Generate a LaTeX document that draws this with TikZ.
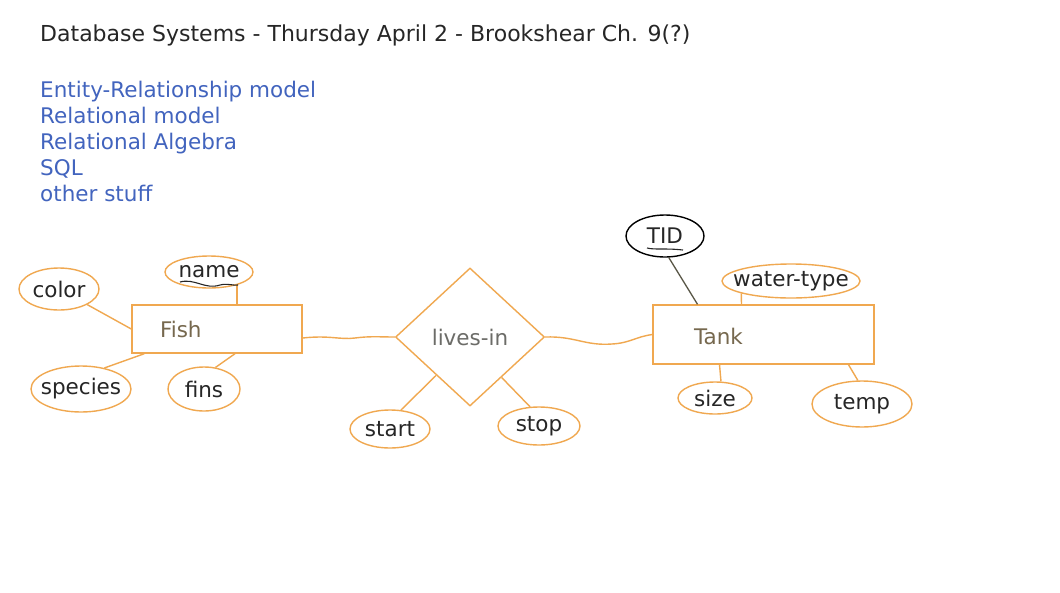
\documentclass[tikz,border=0pt]{standalone}
\usepackage{fontspec}
\setmainfont{DejaVu Sans}
\usepackage{tikz}
\usetikzlibrary{shapes.geometric,shapes,positioning,calc}
\definecolor{penorange}{RGB}{240,168,80}
\definecolor{listblue}{RGB}{66,100,190}
\definecolor{boxtext}{RGB}{118,104,78}
\definecolor{reltext}{RGB}{108,108,104}
\definecolor{attrtext}{RGB}{38,38,38}
\definecolor{keyline}{RGB}{88,86,70}
\tikzstyle{entity}=[draw=penorange, line width=1.4pt, rectangle, inner sep=0pt, minimum height=48pt, text=boxtext, font=\fontsize{21.5}{26}\selectfont]
\tikzstyle{relation}=[draw=penorange, line width=1.4pt, diamond, inner sep=0pt, minimum width=149pt, minimum height=138pt, text=reltext, font=\fontsize{21.5}{26}\selectfont]
\tikzstyle{attrib}=[draw=penorange, line width=1.4pt, ellipse, inner sep=-12pt, text=attrtext, font=\fontsize{21.5}{26}\selectfont]
\tikzstyle{topic}=[anchor=west, inner sep=0pt, text height=15pt, text depth=5pt, text=listblue, font=\fontsize{21.5}{26}\selectfont]
\tikzstyle{link}=[draw=penorange, line width=1.4pt]

\begin{document}
\begin{tikzpicture}[x=1pt,y=-1pt]
\useasboundingbox[fill=white] (0,0) rectangle (1060,592);

% heading
\node[anchor=west, inner sep=0pt, text=attrtext, font=\fontsize{22}{26}\selectfont] (title) at (40,35) {Database Systems - Thursday April 2 - Brookshear Ch. 9(?)};

% topics
\foreach \t [count=\i] in {Entity-Relationship model, Relational model, Relational Algebra, SQL, other stuff}
  \node[topic] (topic\i) at (40,66+26*\i) {\t};

% entities and relationship
\node[entity, minimum width=170pt, text width=114pt] (fish) at (217,329) {Fish};
\node[entity, minimum width=221pt, minimum height=59pt, text width=139pt, text height=24pt, text depth=5pt] (tank) at (763.5,334.5) {Tank};
\node[relation] (rel) at (470,337) {lives-in};

\draw[link] ([yshift=-9pt]fish.east) .. controls (330,335) and (340,340) .. (355,338) .. controls (370,336) and (380,337) .. (rel.west);
\draw[link] (rel.east) .. controls (575,336) and (585,346) .. (612,344) .. controls (630,343) and (635,337) .. (tank.west);

% Fish attributes
\node[attrib, minimum width=80pt, minimum height=42pt] (color) at (59,289) {color};
\node[attrib, minimum width=88pt, minimum height=32pt] (name) at (209,272) {name};
\node[attrib, minimum width=100pt, minimum height=46pt] (species) at (81,389) {species};
\node[attrib, minimum width=72pt, minimum height=44pt] (fins) at (204,389) {fins};
\draw[link] (color) -- (fish.west);
\draw[link] (name.-25) -- (name.-25 |- fish.north);
\draw[link] (species.42) -- ([xshift=13pt]fish.south west);
\draw[link] (fins.62) -- ([xshift=18pt]fish.south);
\draw[line width=1.1pt, attrtext] (180,282) .. controls (195,278) and (205,290) .. (220,285) .. controls (228,283) and (234,286) .. (238,285);

% relationship attributes
\node[attrib, minimum width=80pt, minimum height=38pt] (start) at (390,429) {start};
\node[attrib, minimum width=82pt, minimum height=38pt] (stop) at (539,426) {stop};
\draw[link] (start.60) -- ($(rel.west)!0.55!(rel.south)$);
\draw[link] (stop.115) -- ($(rel.east)!0.58!(rel.south)$);

% Tank attributes
\node[attrib, draw=black, minimum width=78pt, minimum height=42pt] (tid) at (665,236) {TID};
\node[attrib, minimum width=138pt, minimum height=34pt] (water) at (791,281) {water-type};
\node[attrib, minimum width=74pt, minimum height=32pt] (size) at (715,398) {size};
\node[attrib, minimum width=100pt, minimum height=46pt] (temp) at (862,404) {temp};
\draw[line width=1.3pt, keyline] (tid.-80) -- ([xshift=-66pt]tank.north);
\draw[link] (water.-166) -- ([xshift=-22pt]tank.north);
\draw[link] (size.70) -- ([xshift=-44pt]tank.south);
\draw[link] (temp.100) -- ([xshift=85pt]tank.south);
\draw[line width=1.1pt, attrtext] (647,248) .. controls (655,250) and (665,248) .. (683,250);

\end{tikzpicture}
\end{document}
